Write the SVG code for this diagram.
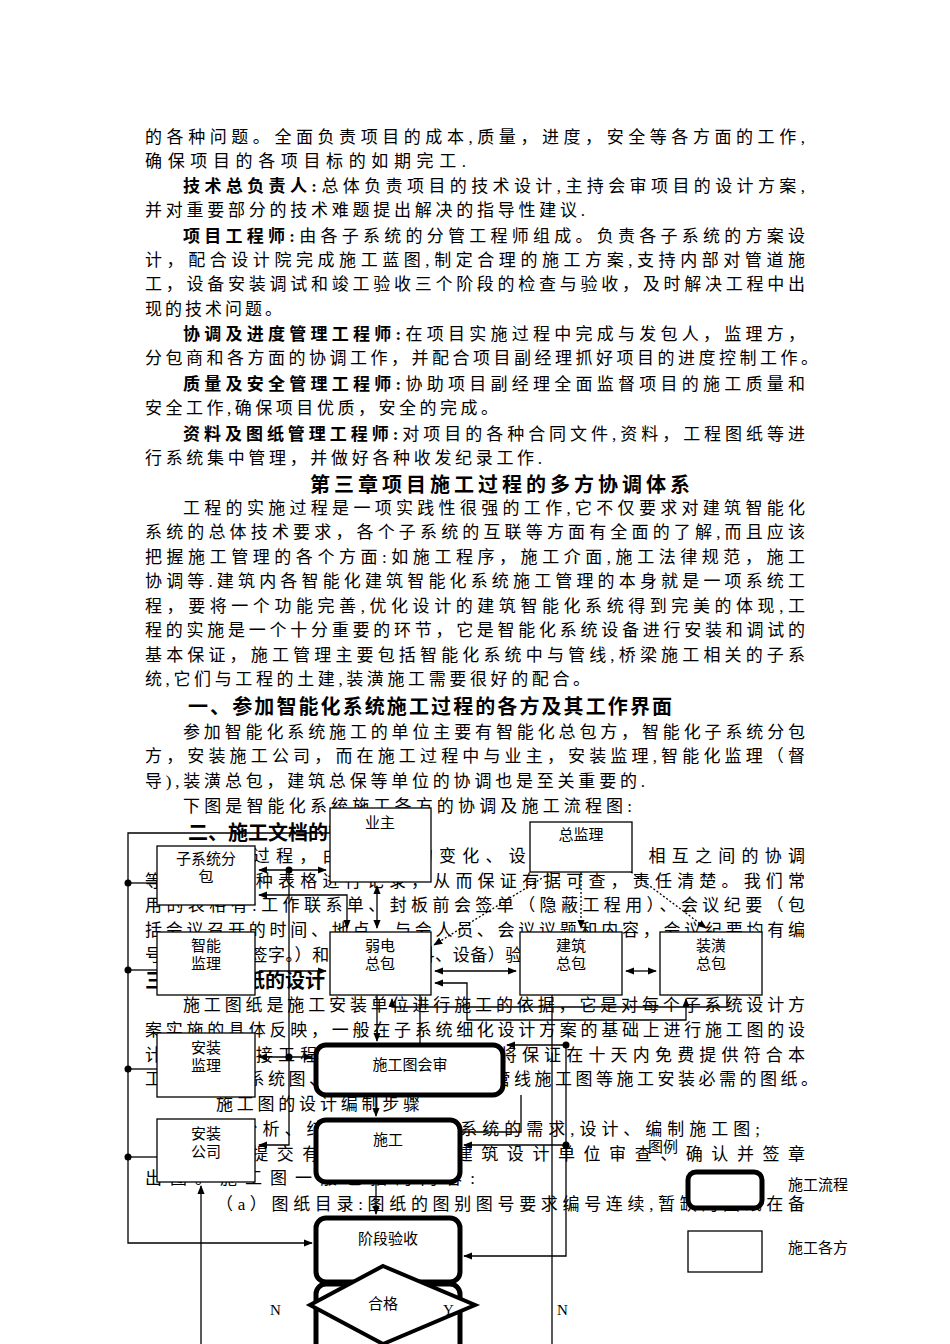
<svg xmlns="http://www.w3.org/2000/svg" width="950" height="1344" viewBox="0 0 950 1344">
<defs>
<style>
text{font-family:"Liberation Serif","Noto Sans CJK SC",serif;fill:#000}
.t{font-size:17px}
.b{font-size:17px;font-weight:bold}
.h{font-size:20px;font-weight:bold}
.n{font-size:15px;text-anchor:middle}
.box{fill:#fff;stroke:#000;stroke-width:1.3}
.flow{fill:#fff;stroke:#000;stroke-width:5}
.c line,.c polyline{stroke:#000;stroke-width:1.3;fill:none}
.d{stroke-dasharray:2 2}
</style>
<marker id="a" viewBox="0 0 10 10" refX="9" refY="5" markerWidth="7" markerHeight="7" orient="auto-start-reverse"><path d="M0,1 L10,5 L0,9z" fill="#000"/></marker>
</defs>
<rect width="950" height="1344" fill="#fff"/>
<g id="body">
<text class="t" x="145" y="143" textLength="660" lengthAdjust="spacing">的各种问题。全面负责项目的成本,质量，进度，安全等各方面的工作,</text>
<text class="t" x="145" y="167" textLength="321" lengthAdjust="spacing">确保项目的各项目标的如期完工.</text>
<text class="t" x="183" y="192" textLength="622" lengthAdjust="spacing"><tspan class="b">技术总负责人:</tspan>总体负责项目的技术设计,主持会审项目的设计方案,</text>
<text class="t" x="145" y="216" textLength="440" lengthAdjust="spacing">并对重要部分的技术难题提出解决的指导性建议.</text>
<text class="t" x="183" y="242" textLength="622" lengthAdjust="spacing"><tspan class="b">项目工程师:</tspan>由各子系统的分管工程师组成。负责各子系统的方案设</text>
<text class="t" x="145" y="266" textLength="660" lengthAdjust="spacing">计，配合设计院完成施工蓝图,制定合理的施工方案,支持内部对管道施</text>
<text class="t" x="145" y="290" textLength="660" lengthAdjust="spacing">工，设备安装调试和竣工验收三个阶段的检查与验收，及时解决工程中出</text>
<text class="t" x="145" y="315" textLength="137" lengthAdjust="spacing">现的技术问题。</text>
<text class="t" x="183" y="340" textLength="622" lengthAdjust="spacing"><tspan class="b">协调及进度管理工程师:</tspan>在项目实施过程中完成与发包人，监理方，</text>
<text class="t" x="145" y="364" textLength="673" lengthAdjust="spacing">分包商和各方面的协调工作，并配合项目副经理抓好项目的进度控制工作。</text>
<text class="t" x="183" y="390" textLength="622" lengthAdjust="spacing"><tspan class="b">质量及安全管理工程师:</tspan>协助项目副经理全面监督项目的施工质量和</text>
<text class="t" x="145" y="414" textLength="353" lengthAdjust="spacing">安全工作,确保项目优质，安全的完成。</text>
<text class="t" x="183" y="440" textLength="622" lengthAdjust="spacing"><tspan class="b">资料及图纸管理工程师:</tspan>对项目的各种合同文件,资料，工程图纸等进</text>
<text class="t" x="145" y="464" textLength="397" lengthAdjust="spacing">行系统集中管理，并做好各种收发纪录工作.</text>
<text class="h" x="310" y="492" textLength="380" lengthAdjust="spacing">第三章项目施工过程的多方协调体系</text>
<text class="t" x="183" y="514" textLength="622" lengthAdjust="spacing">工程的实施过程是一项实践性很强的工作,它不仅要求对建筑智能化</text>
<text class="t" x="145" y="538" textLength="660" lengthAdjust="spacing">系统的总体技术要求，各个子系统的互联等方面有全面的了解,而且应该</text>
<text class="t" x="145" y="563" textLength="660" lengthAdjust="spacing">把握施工管理的各个方面:如施工程序，施工介面,施工法律规范，施工</text>
<text class="t" x="145" y="587" textLength="660" lengthAdjust="spacing">协调等.建筑内各智能化建筑智能化系统施工管理的本身就是一项系统工</text>
<text class="t" x="145" y="612" textLength="660" lengthAdjust="spacing">程，要将一个功能完善,优化设计的建筑智能化系统得到完美的体现,工</text>
<text class="t" x="145" y="636" textLength="660" lengthAdjust="spacing">程的实施是一个十分重要的环节，它是智能化系统设备进行安装和调试的</text>
<text class="t" x="145" y="661" textLength="660" lengthAdjust="spacing">基本保证，施工管理主要包括智能化系统中与管线,桥梁施工相关的子系</text>
<text class="t" x="145" y="685" textLength="445" lengthAdjust="spacing">统,它们与工程的土建,装潢施工需要很好的配合。</text>
<text class="h" x="188" y="714" textLength="484" lengthAdjust="spacing">一、参加智能化系统施工过程的各方及其工作界面</text>
<text class="t" x="183" y="738" textLength="622" lengthAdjust="spacing">参加智能化系统施工的单位主要有智能化总包方，智能化子系统分包</text>
<text class="t" x="145" y="762" textLength="660" lengthAdjust="spacing">方，安装施工公司，而在施工过程中与业主，安装监理,智能化监理（督</text>
<text class="t" x="145" y="787" textLength="500" lengthAdjust="spacing">导),装潢总包，建筑总保等单位的协调也是至关重要的.</text>
<text class="t" x="183" y="812" textLength="449" lengthAdjust="spacing">下图是智能化系统施工各方的协调及施工流程图:</text>
<text class="h" x="188" y="840">二、施工文档的管理</text>
<text class="t" x="183" y="862" textLength="622" lengthAdjust="spacing">在施工过程，由于工程的变化、设计的修改、相互之间的协调</text>
<text class="t" x="145" y="887" textLength="660" lengthAdjust="spacing">等都通过各种表格进行记录，从而保证有据可查，责任清楚。我们常</text>
<text class="t" x="145" y="911" textLength="660" lengthAdjust="spacing">用的表格有:工作联系单、封板前会签单（隐蔽工程用）、会议纪要（包</text>
<text class="t" x="145" y="936" textLength="660" lengthAdjust="spacing">括会议召开的时间、地点、与会人员、会议议题和内容，会议纪要均有编</text>
<text class="t" x="145" y="961" textLength="430" lengthAdjust="spacing">号，与会人员签字。）和验收单（材料、设备）验收等。</text>
<text class="h" x="145" y="988">三、施工图纸的设计</text>
<text class="t" x="183" y="1011" textLength="622" lengthAdjust="spacing">施工图纸是施工安装单位进行施工的依据，它是对每个子系统设计方</text>
<text class="t" x="145" y="1036" textLength="660" lengthAdjust="spacing">案实施的具体反映，一般在子系统细化设计方案的基础上进行施工图的设</text>
<text class="t" x="145" y="1061" textLength="660" lengthAdjust="spacing">计，我们承接工程后，在设计会审后将保证在十天内免费提供符合本</text>
<text class="t" x="145" y="1085" textLength="673" lengthAdjust="spacing">工程要求的系统图、平面图、布线图、管线施工图等施工安装必需的图纸。</text>
<text class="t" x="216" y="1110" textLength="204" lengthAdjust="spacing">施工图的设计编制步骤</text>
<text class="t" x="183" y="1135" textLength="577" lengthAdjust="spacing">（1）分析、结合业主对各子系统的需求,设计、编制施工图;</text>
<text class="t" x="183" y="1160" textLength="622" lengthAdjust="spacing">（2）提交有相应资质的建筑设计单位审查、确认并签章</text>
<text class="t" x="145" y="1184" textLength="330" lengthAdjust="spacing">出图。施工图一般包括的内容:</text>
<text class="t" x="216" y="1210" textLength="589" lengthAdjust="spacing">（a）图纸目录:图纸的图别图号要求编号连续,暂缺的图纸在备</text>
</g>
<g class="c" id="connectors">
<polyline points="330,833 128,833 128,1243 312,1243" marker-end="url(#a)"/>
<line x1="128" y1="883" x2="157" y2="883"/>
<line x1="128" y1="970" x2="157" y2="970"/>
<line x1="128" y1="1069" x2="157" y2="1069"/>
<line x1="128" y1="1157" x2="157" y2="1157"/>
<line x1="259" y1="870" x2="326" y2="870" marker-start="url(#a)" marker-end="url(#a)"/>
<polyline points="289,870 289,1145 259,1145" marker-end="url(#a)"/>
<line x1="259" y1="1057" x2="312" y2="1057" marker-start="url(#a)" marker-end="url(#a)"/>
<polyline points="259,895 347,895 347,928" marker-start="url(#a)" marker-end="url(#a)"/>
<line x1="377" y1="886" x2="377" y2="928" marker-start="url(#a)" marker-end="url(#a)"/>
<line x1="552" y1="872" x2="434" y2="945" class="d" marker-end="url(#a)"/>
<line x1="581" y1="872" x2="581" y2="928" class="d" marker-end="url(#a)"/>
<line x1="631" y1="872" x2="706" y2="928" class="d" marker-end="url(#a)"/>
<line x1="259" y1="971" x2="326" y2="971" marker-end="url(#a)"/>
<line x1="435" y1="971" x2="516" y2="971" marker-start="url(#a)" marker-end="url(#a)"/>
<line x1="626" y1="971" x2="656" y2="971" marker-start="url(#a)" marker-end="url(#a)"/>
<polyline points="727,995 727,1007 392,1007 392,999" marker-end="url(#a)"/>
<polyline points="435,983 467,983 467,1020 686,1020 686,999" marker-start="url(#a)" marker-end="url(#a)"/>
<line x1="377" y1="995" x2="377" y2="1041" marker-end="url(#a)"/>
<line x1="420" y1="995" x2="420" y2="1045"/>
<polyline points="566,1045 507,1045" marker-end="url(#a)"/>
<polyline points="566,1045 566,1256 464,1256" marker-end="url(#a)"/>
<line x1="566" y1="1145" x2="464" y2="1145" marker-end="url(#a)"/>
<polyline points="521,1095 521,1132 460,1132"/>
<line x1="376" y1="1095" x2="376" y2="1116" marker-end="url(#a)"/>
<line x1="376" y1="1182" x2="376" y2="1214" marker-end="url(#a)"/>
<polyline points="552,995 552,1344"/>
<line x1="201" y1="1344" x2="201" y2="1186" marker-end="url(#a)"/>
<line x1="383" y1="1282" x2="383" y2="1336" marker-end="url(#a)"/>
</g>
<g id="n-yezhu"><rect class="box" x="330" y="808" width="101" height="74"/><text class="n" x="380" y="828">业主</text></g>
<g id="n-zongjianli"><rect class="box" x="530" y="822" width="102" height="50"/><text class="n" x="581" y="840">总监理</text></g>
<g id="n-zixitong"><rect class="box" x="157" y="846" width="98" height="59"/><text class="n" x="206" y="864">子系统分</text><text class="n" x="206" y="882">包</text></g>
<g id="n-zhineng"><rect class="box" x="157" y="932" width="98" height="63"/><text class="n" x="206" y="951">智能</text><text class="n" x="206" y="969">监理</text></g>
<g id="n-ruodian"><rect class="box" x="330" y="932" width="101" height="63"/><text class="n" x="380" y="951">弱电</text><text class="n" x="380" y="969">总包</text></g>
<g id="n-jianzhu"><rect class="box" x="520" y="932" width="102" height="63"/><text class="n" x="571" y="951">建筑</text><text class="n" x="571" y="969">总包</text></g>
<g id="n-zhuanghuang"><rect class="box" x="660" y="932" width="102" height="63"/><text class="n" x="711" y="951">装潢</text><text class="n" x="711" y="969">总包</text></g>
<g id="n-anzhuangjianli"><rect class="box" x="157" y="1033" width="98" height="64"/><text class="n" x="206" y="1053">安装</text><text class="n" x="206" y="1071">监理</text></g>
<g id="n-huishen"><rect class="flow" x="316" y="1045" width="187" height="50" rx="10"/><text class="n" x="410" y="1070">施工图会审</text></g>
<g id="n-anzhuanggongsi"><rect class="box" x="157" y="1119" width="98" height="63"/><text class="n" x="206" y="1139">安装</text><text class="n" x="206" y="1157">公司</text></g>
<g id="n-shigong"><rect class="flow" x="316" y="1120" width="144" height="62" rx="10"/><text class="n" x="388" y="1145">施工</text></g>
<g id="n-yanshou"><rect class="flow" x="316" y="1218" width="144" height="64" rx="10"/><text class="n" x="388" y="1244">阶段验收</text></g>
<g id="n-next"><rect class="flow" x="316" y="1284" width="144" height="70" rx="10"/></g>
<g id="n-hege"><polygon points="383,1266 475,1305 383,1344 310,1305" fill="#fff" stroke="#000" stroke-width="4"/><text class="n" x="383" y="1309">合格</text></g>
<g id="dots">
<circle cx="128" cy="883" r="3.5"/><circle cx="128" cy="970" r="3.5"/><circle cx="128" cy="1069" r="3.5"/><circle cx="128" cy="1157" r="3.5"/>
<circle cx="289" cy="870" r="3.5"/><circle cx="289" cy="1057" r="3.5"/><circle cx="566" cy="1045" r="3.5"/><circle cx="566" cy="1145" r="3.5"/>
</g>
<g id="labels">
<text x="270" y="1315" style="font-size:15px">N</text>
<text x="443" y="1315" style="font-size:15px">Y</text>
<text x="557" y="1315" style="font-size:15px">N</text>
</g>
<g id="legend">
<text x="648" y="1152" style="font-size:15px">图例</text>
<rect class="flow" x="688" y="1172" width="74" height="36" rx="8"/>
<text x="788" y="1190" style="font-size:15px">施工流程</text>
<rect class="box" x="688" y="1231" width="74" height="41"/>
<text x="788" y="1253" style="font-size:15px">施工各方</text>
</g>
</svg>
